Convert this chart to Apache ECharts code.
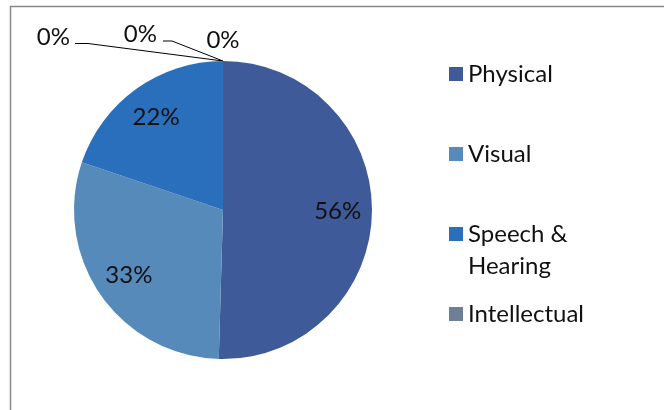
<!DOCTYPE html>
<html>
<head>
<meta charset="utf-8">
<script src="https://cdn.jsdelivr.net/npm/echarts@6/dist/echarts.min.js"></script>
<style>
  html, body { margin: 0; padding: 0; background: #fff; }
  #chart { width: 664px; height: 410px; }
</style>
</head>
<body>
<div id="chart"></div>
<script>
// Disability categories and their shares (percent)
const categories = ['Physical', 'Visual', 'Speech &\nHearing', 'Intellectual', 'Multiple', 'Other'];
const shares = [56, 33, 22, 0, 0, 0];
const sliceColors = ['#3F5A98', '#568ABA', '#2A6FBC', '#6E7E97', '#8FA9D0', '#A5C0DE'];
const legendNames = categories.slice(0, 4);

const FONT = 'Lato';
const CX = 223, CY = 210, R = 149;

const chart = echarts.init(document.getElementById('chart'), null, { renderer: 'canvas' });

const pieData = categories.map((name, i) => ({
  name,
  value: shares[i],
  itemStyle: { color: sliceColors[i] },
  label: { show: shares[i] === 0 },
  labelLine: { show: shares[i] === 0 && i < 5 }
}));

// Label ring: same angles, larger radius so the "inside" labels sit further out
const ringData = categories.map((name, i) => ({
  name,
  value: shares[i],
  label: { show: shares[i] !== 0 }
}));

// Positions of the zero-share callouts relative to the point where they start
const zeroCallouts = {
  3: { dx: -153, dy: -24, line: [[-135, -17.5], [-148, -17.5]], align: 'right' },
  4: { dx: -66, dy: -27, line: [[-51, -20], [-60, -20]], align: 'right' },
  5: { dx: 0, dy: -21, line: null, align: 'center' }
};

// Legend line heights tuned so entries sit evenly down the right side
const legendLineHeights = [96, 32, 32, 32];

chart.setOption({
  animation: false,
  backgroundColor: '#ffffff',
  graphic: [{
    type: 'rect',
    silent: true,
    shape: { x: 10.5, y: 6.5, width: 700, height: 450 },
    style: { fill: 'none', stroke: '#8a8a8a', lineWidth: 1.5 }
  }],
  legend: {
    orient: 'vertical',
    left: 449,
    top: 26,
    padding: 0,
    itemGap: 16,
    itemWidth: 14,
    itemHeight: 14,
    icon: 'rect',
    selectedMode: false,
    // a wrapped entry keeps its first line level with the swatch
    formatter: name => (name.indexOf('\n') >= 0 ? '\n' + name : name),
    data: legendNames.map((name, i) => ({
      name,
      textStyle: { lineHeight: legendLineHeights[i] }
    })),
    textStyle: { fontFamily: FONT, fontSize: 24, color: '#111', lineHeight: 32 }
  },
  series: [
    {
      type: 'pie',
      name: 'Shares',
      center: [CX, CY],
      radius: [0, R],
      startAngle: 90,
      clockwise: true,
      avoidLabelOverlap: false,
      silent: true,
      data: pieData,
      itemStyle: { borderWidth: 0 },
      label: {
        position: 'outside',
        formatter: '{c}%',
        fontFamily: FONT,
        fontSize: 24,
        color: '#111'
      },
      labelLine: {
        show: true,
        length: 20,
        length2: 10,
        lineStyle: { color: '#000', width: 1 }
      },
      labelLayout: function (params) {
        const c = zeroCallouts[params.dataIndex];
        if (!c || !params.labelLinePoints) return {};
        const a = params.labelLinePoints[0];
        const out = {
          x: a[0] + c.dx,
          y: a[1] + c.dy,
          align: c.align,
          verticalAlign: 'middle'
        };
        if (c.line) {
          out.labelLinePoints = [a].concat(c.line.map(p => [a[0] + p[0], a[1] + p[1]]));
        }
        return out;
      }
    },
    {
      type: 'pie',
      name: 'Labels',
      center: [CX, CY],
      radius: [0, R * 1.5],
      startAngle: 90,
      clockwise: true,
      silent: true,
      z: 3,
      data: ringData,
      itemStyle: { color: 'rgba(0,0,0,0)', borderWidth: 0 },
      label: {
        position: 'inside',
        formatter: '{c}%',
        fontFamily: FONT,
        fontSize: 24,
        color: '#111'
      },
      labelLine: { show: false }
    }
  ]
});
</script>
</body>
</html>
